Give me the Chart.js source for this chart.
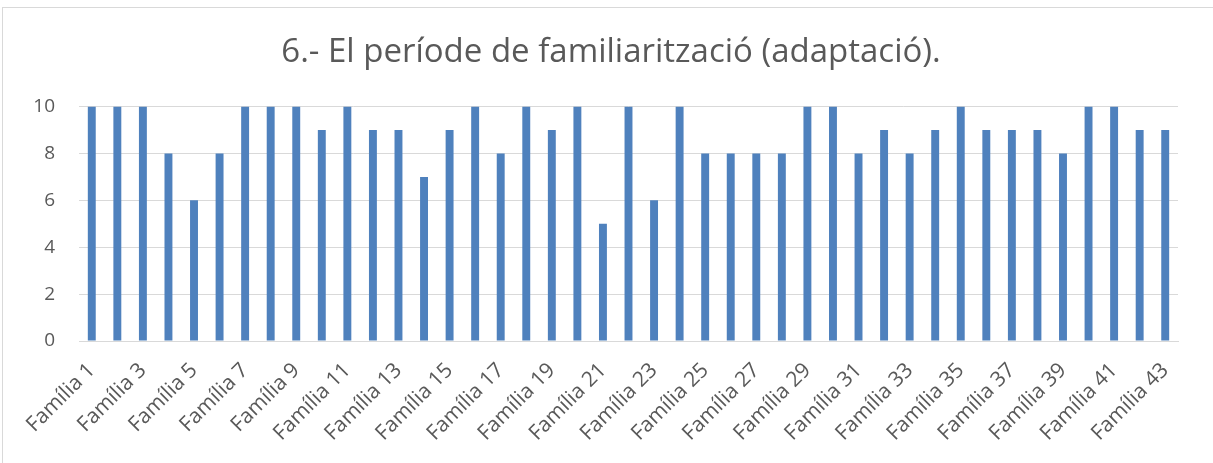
<!DOCTYPE html>
<html>
<head>
<meta charset="utf-8">
<script src="https://cdn.jsdelivr.net/npm/chart.js@4/dist/chart.umd.min.js"></script>
<style>
  html, body { margin: 0; padding: 0; background: #fff; }
  body { width: 1213px; height: 463px; overflow: hidden; position: relative; }
  .frame { position: absolute; left: 2px; top: 7px; width: 1300px; height: 500px;
           border-left: 1px solid #d9d9d9; border-top: 1px solid #d9d9d9; }
  .wrap { position: absolute; left: 0; top: 0; width: 1222px; height: 463px; }
</style>
</head>
<body>
<div class="frame"></div>
<div class="wrap"><canvas id="chart"></canvas></div>
<script>
document.addEventListener("DOMContentLoaded", function() {
    // Dades del gràfic
    const titleText = '6.- El període de familiarització (adaptació).';
    const families = [];
    for (let i = 1; i <= 43; i++) families.push('Família ' + i);
    const scores = [10, 10, 10, 8, 6, 8, 10, 10, 10, 9, 10, 9, 9, 7, 9, 10, 8, 10, 9, 10, 5, 10,
                    6, 10, 8, 8, 8, 8, 10, 10, 8, 9, 8, 9, 10, 9, 9, 9, 8, 10, 10, 9, 9];
    const yTicks = [0, 2, 4, 6, 8, 10];

    const textColor = '#595959';
    const gridColor = '#d9d9d9';
    const barColor = '#4f81bd';
    const fontFamily = "'Open Sans', 'Noto Sans', sans-serif";

    new Chart(document.getElementById('chart').getContext('2d'), {
        type: 'bar',
        data: {
            labels: families,
            datasets: [{
                data: scores,
                backgroundColor: barColor,
                borderWidth: 0,
                barPercentage: 0.62,
                categoryPercentage: 0.5
            }]
        },
        options: {
            responsive: true,
            maintainAspectRatio: false,
            animation: false,
            layout: { padding: 0 },
            plugins: {
                legend: { display: false },
                tooltip: { enabled: false },
                title: {
                    display: true,
                    text: titleText,
                    color: textColor,
                    font: { family: fontFamily, size: 33, weight: 'normal', lineHeight: 1.2 },
                    padding: { top: 33, bottom: 34 }
                }
            },
            scales: {
                x: {
                    grid: { display: false, drawTicks: false },
                    border: { display: true, color: gridColor, width: 1 },
                    ticks: {
                        autoSkip: false,
                        maxRotation: 45,
                        minRotation: 45,
                        padding: 17,
                        color: textColor,
                        font: { family: fontFamily, size: 21 },
                        callback: function(val, idx) {
                            return idx % 2 === 0 ? this.getLabelForValue(val) : '';
                        }
                    },
                    afterFit: function(scale) { scale.height = 122; }
                },
                y: {
                    min: 0,
                    max: 10,
                    afterBuildTicks: function(scale) {
                        scale.ticks = yTicks.map(v => ({ value: v }));
                    },
                    grid: { color: gridColor, drawTicks: false, lineWidth: 1 },
                    border: { display: false },
                    ticks: {
                        padding: 24,
                        color: textColor,
                        font: { family: fontFamily, size: 19 }
                    },
                    afterFit: function(scale) { scale.width = 79; }
                },
                // eix buit a la dreta perquè el títol quedi centrat com a l'original
                yRight: {
                    position: 'right',
                    display: true,
                    grid: { display: false, drawTicks: false },
                    border: { display: false },
                    ticks: { display: false },
                    afterFit: function(scale) { scale.width = 44; }
                }
            }
        }
    });
});
</script>
</body>
</html>
